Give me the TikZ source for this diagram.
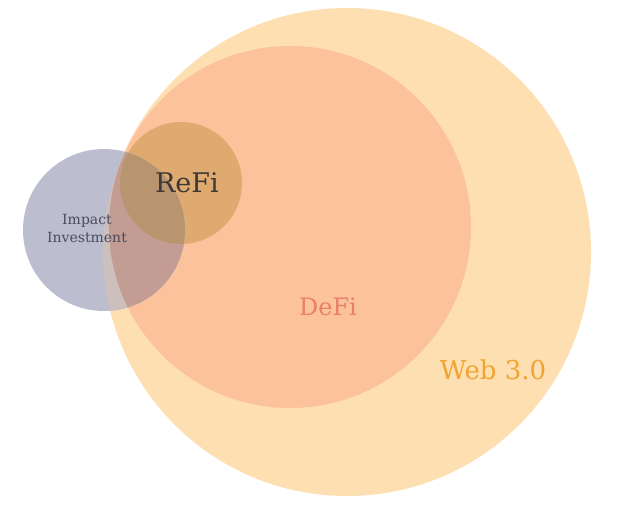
\documentclass[tikz,border=0pt]{standalone}
\usepackage{fontspec}
\setmainfont{DejaVu Serif}
\definecolor{webc}{HTML}{FEDFB1}
\definecolor{defic}{HTML}{FBC29C}
\definecolor{refic}{HTML}{DEAA70}
\definecolor{impc}{HTML}{BCBED0}
\definecolor{impweb}{HTML}{CDBFBC}
\definecolor{impdefi}{HTML}{C39C94}
\definecolor{imprefi}{HTML}{B9956F}
\definecolor{webtxt}{HTML}{F0A431}
\definecolor{defitxt}{HTML}{E9806A}
\definecolor{refitxt}{HTML}{3C3936}
\definecolor{imptxt}{HTML}{4A4C5C}
\tikzset{
  lbl/.style={inner sep=0pt, align=center},
}
\begin{document}
\begin{tikzpicture}[x=1pt,y=-1pt]
\useasboundingbox[fill=white] (0,0) rectangle (632,518);
% circles
\def\webpath{(347,252) circle[radius=244]}
\def\defipath{(290,227) circle[radius=181]}
\def\refipath{(181,183) circle[radius=61]}
\def\imppath{(104,230) circle[radius=81]}
\fill[webc] \webpath;
\fill[defic] \defipath;
\fill[refic] \refipath;
\fill[impc] \imppath;
\begin{scope}
  \clip \imppath;
  \fill[impweb] \webpath;
  \fill[impdefi] \defipath;
  \fill[imprefi] \refipath;
\end{scope}
% labels
\node[lbl, text=webtxt, font=\fontsize{26}{30}\selectfont] (web) at (493,370) {Web 3.0};
\node[lbl, text=defitxt, font=\fontsize{24}{28}\selectfont] (defi) at (328,307) {DeFi};
\node[lbl, text=refitxt, font=\fontsize{27}{31}\selectfont] (refi) at (187,183) {ReFi};
\node[lbl, text=imptxt, font=\fontsize{14}{18}\selectfont] (imp) at (87,228) {Impact\\Investment};
\end{tikzpicture}
\end{document}
